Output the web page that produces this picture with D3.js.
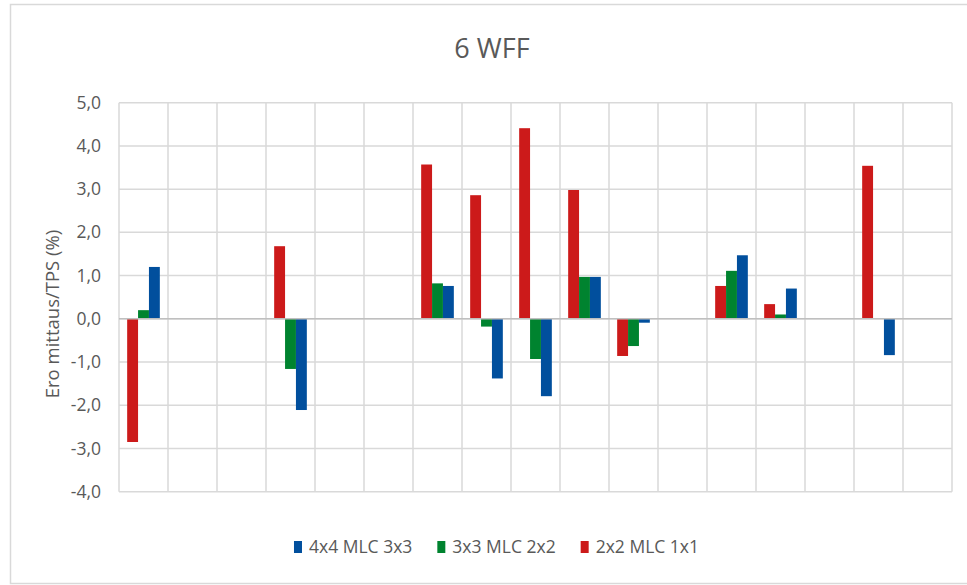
<!DOCTYPE html>
<html>
<head>
<meta charset="utf-8">
<script src="https://cdn.jsdelivr.net/npm/d3@7"></script>
<style>
  body { margin: 0; background: #fff; }
  text { font-family: "Open Sans", sans-serif; fill: #595959; }
</style>
</head>
<body>
<div id="chart"></div>
<script>
// categories have no labels on the x axis in the original
var categories = ["1","2","3","4","5","6","7","8","9","10","11","12","13","14","15","16","17"];
var seriesNames = ["2x2 MLC 1x1", "3x3 MLC 2x2", "4x4 MLC 3x3"];
var seriesColors = ["#CC1A1A", "#00832F", "#014F9D"];
var red   = [-2.85, null, null,  1.68, null, null, 3.57,  2.86,  4.41, 2.98, -0.86, null, 0.76, 0.34, null,  3.54, null];
var green = [ 0.20, null, null, -1.16, null, null, 0.82, -0.18, -0.93, 0.97, -0.63, null, 1.11, 0.10, null,  null, null];
var blue  = [ 1.20, null, null, -2.11, null, null, 0.76, -1.38, -1.79, 0.97, -0.09, null, 1.47, 0.70, null, -0.84, null];
var yTicks = [5, 4, 3, 2, 1, 0, -1, -2, -3, -4];
var legendOrder = [2, 1, 0];

var W = 967, H = 585;
var margin = {top: 102.7, right: 15, bottom: 93.3, left: 119};

var svg = d3.select("#chart").append("svg")
  .attr("width", W).attr("height", H);

// outer chart frame
svg.append("rect")
  .attr("x", 10.5).attr("y", 4.5)
  .attr("width", W + 10).attr("height", 579)
  .attr("fill", "#fff").attr("stroke", "#D9D9D9").attr("stroke-width", 1.5);

var x = d3.scaleBand().domain(categories).range([margin.left, W - margin.right]).padding(0);
var y = d3.scaleLinear().domain([-4, 5]).range([H - margin.bottom, margin.top]);
var x1 = d3.scaleBand().domain(d3.range(seriesNames.length)).range([0, x.bandwidth()])
  .paddingInner(0).paddingOuter(0.75);

// horizontal grid
svg.append("g").selectAll("line").data(yTicks).enter().append("line")
  .attr("x1", margin.left).attr("x2", W - margin.right)
  .attr("y1", function(d) { return y(d); }).attr("y2", function(d) { return y(d); })
  .attr("stroke", "#D9D9D9").attr("stroke-width", 1.5);

// vertical grid at category boundaries
var bounds = categories.map(function(c) { return x(c); }).concat([x(categories[categories.length-1]) + x.bandwidth()]);
svg.append("g").selectAll("line").data(bounds).enter().append("line")
  .attr("x1", function(d) { return d; }).attr("x2", function(d) { return d; })
  .attr("y1", margin.top).attr("y2", H - margin.bottom)
  .attr("stroke", "#D9D9D9").attr("stroke-width", 1.5);

// bars
var allSeries = [red, green, blue];
allSeries.forEach(function(vals, si) {
  svg.append("g").selectAll("rect")
    .data(vals.map(function(v, i) { return {c: categories[i], v: v}; }).filter(function(d) { return d.v !== null; }))
    .enter().append("rect")
    .attr("x", function(d) { return x(d.c) + x1(si); })
    .attr("width", x1.bandwidth())
    .attr("y", function(d) { return y(Math.max(0, d.v)); })
    .attr("height", function(d) { return Math.abs(y(d.v) - y(0)); })
    .attr("fill", seriesColors[si]);
});

// zero axis line
svg.append("line")
  .attr("x1", margin.left).attr("x2", W - margin.right)
  .attr("y1", y(0)).attr("y2", y(0))
  .attr("stroke", "#BFBFBF").attr("stroke-width", 1.5);

// y tick labels
var fmt = function(d) { return d3.format(".1f")(d).replace(".", ",").replace("−", "-"); };
svg.append("g").selectAll("text").data(yTicks).enter().append("text")
  .attr("x", 101).attr("y", function(d) { return y(d); })
  .attr("dy", "0.35em").attr("text-anchor", "end")
  .style("font-size", "17.5px")
  .text(fmt);

// y axis title
svg.append("text")
  .attr("transform", "translate(59,314) rotate(-90)")
  .attr("text-anchor", "middle")
  .style("font-size", "18.5px")
  .text("Ero mittaus/TPS (%)");

// title
svg.append("text")
  .attr("x", 492).attr("y", 58)
  .attr("text-anchor", "middle")
  .style("font-size", "27px")
  .text("6 WFF");

// legend
var legend = svg.append("g");
var lx = 0;
legendOrder.forEach(function(si) {
  var g = legend.append("g").attr("transform", "translate(" + lx + ",0)");
  g.append("rect").attr("x", 0).attr("y", -6).attr("width", 8).attr("height", 12).attr("fill", seriesColors[si]);
  var t = g.append("text").attr("x", 15).attr("dy", "0.35em").style("font-size", "17.5px").text(seriesNames[si]);
  lx += 15 + t.node().getComputedTextLength() + 25;
});
var lw = lx - 25;
legend.attr("transform", "translate(" + (496.5 - lw / 2) + ",547)");
</script>
</body>
</html>
